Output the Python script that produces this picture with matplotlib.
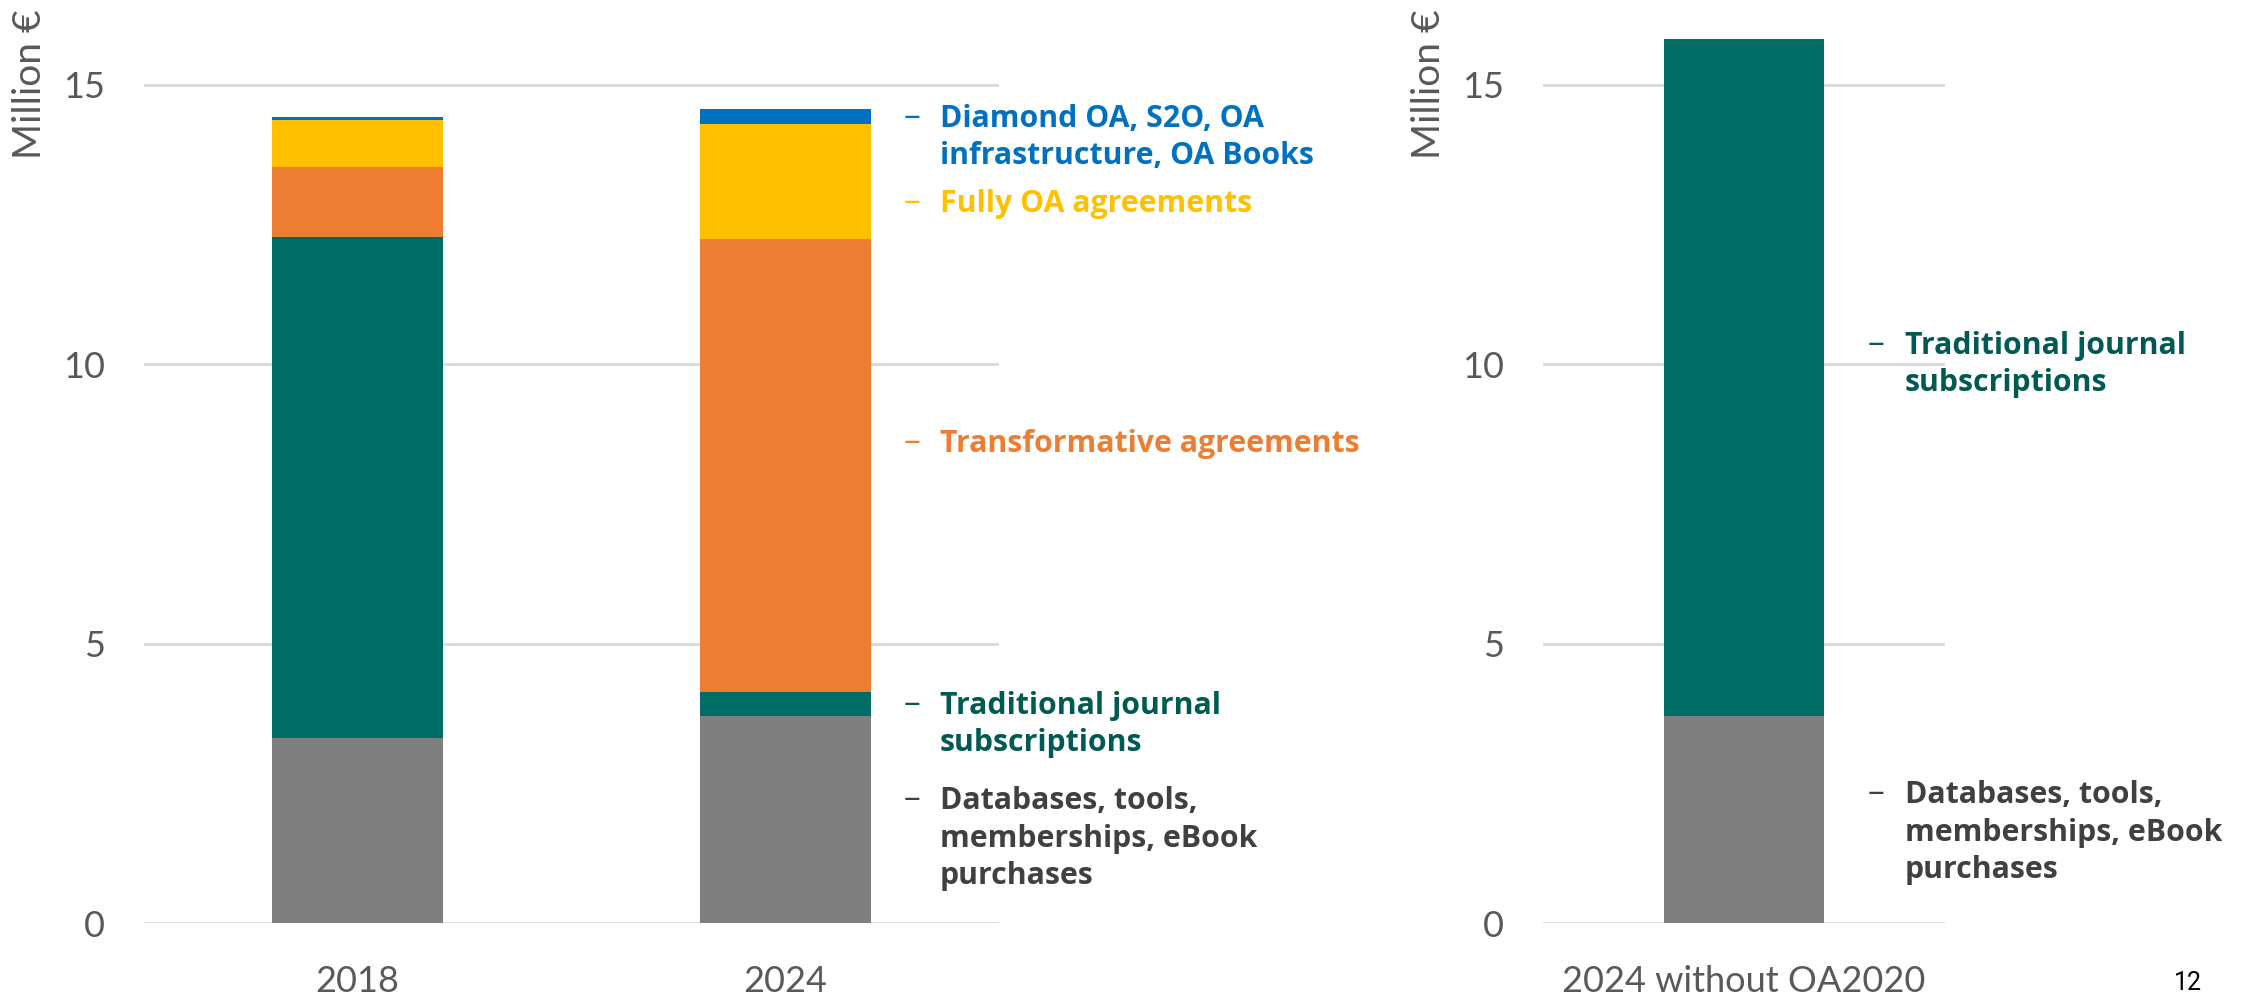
import matplotlib
matplotlib.use("Agg")
import matplotlib.pyplot as plt
import numpy as np

# ---------------- data ----------------
categories = ["2018", "2024"]
databases = [3.31, 3.70]
traditional = [8.97, 0.44]
transformative = [1.26, 8.10]
fully_oa = [0.84, 2.07]
diamond = [0.04, 0.26]

categories_right = ["2024 without OA2020"]
databases_right = [3.70]
traditional_right = [12.12]

yticks = [0, 5, 10, 15]
y_label = "Million €"
page_number = "12"

series_left = [
    ("Databases, tools,\nmemberships, eBook\npurchases", databases),
    ("Traditional journal\nsubscriptions", traditional),
    ("Transformative agreements", transformative),
    ("Fully OA agreements", fully_oa),
    ("Diamond OA, S2O, OA\ninfrastructure, OA Books", diamond),
]
series_right = [
    ("Databases, tools,\nmemberships, eBook\npurchases", databases_right),
    ("Traditional journal\nsubscriptions", traditional_right),
]

# ---------------- styles ----------------
bar_colors = ["#7F7F7F", "#006C66", "#ED7D31", "#FFC000", "#0070C0"]
label_colors = ["#404040", "#005A54", "#ED7D31", "#FFC000", "#0070C0"]
grid_color = "#D9D9D9"
tick_color = "#595959"
tick_font = "Lato"
label_font = "Open Sans"

W, H = 2251, 996
fig = plt.figure(figsize=(W / 100, H / 100), dpi=100)

def fx(px):
    return px / W

def fy(py):
    return 1 - py / H

y0_px, y15_px = 923, 85
px_per_unit = (y0_px - y15_px) / 15.0
ymax = 16
ax_h = ymax * px_per_unit

ax1 = fig.add_axes([fx(143.6), (H - y0_px) / H, (999 - 143.6) / W, ax_h / H])
ax2 = fig.add_axes([fx(1543), (H - y0_px) / H, (1945 - 1543) / W, ax_h / H])

def style_axes(ax, cats):
    ax.set_ylim(0, ymax)
    ax.set_xlim(-0.5, len(cats) - 0.5)
    ax.set_yticks(yticks)
    ax.set_xticks(range(len(cats)))
    ax.set_xticklabels(cats)
    ax.yaxis.grid(True, color=grid_color, linewidth=2)
    ax.set_axisbelow(True)
    for s in ax.spines.values():
        s.set_visible(False)
    ax.tick_params(axis="both", length=0, labelcolor=tick_color, labelsize=26)
    ax.tick_params(axis="y", pad=28)
    ax.tick_params(axis="x", pad=30)
    for lab in ax.get_xticklabels() + ax.get_yticklabels():
        lab.set_fontfamily(tick_font)

def stack(ax, cats, series):
    x = np.arange(len(cats))
    bottom = np.zeros(len(cats))
    for (name, vals), c in zip(series, bar_colors):
        ax.bar(x, vals, width=0.4, bottom=bottom, color=c, linewidth=0, zorder=2)
        bottom = bottom + np.array(vals)

stack(ax1, categories, series_left)
stack(ax2, categories_right, series_right)
style_axes(ax1, categories)
style_axes(ax2, categories_right)

# axis titles
fig.text(fx(30), fy(84), y_label, rotation=90, ha="center", va="center",
         fontsize=28, color=tick_color, family=tick_font)
fig.text(fx(1429), fy(84), y_label, rotation=90, ha="center", va="center",
         fontsize=28, color=tick_color, family=tick_font)

# annotation labels (baseline of first line in px, dash x, text x)
pitch = 37.5
label_pos_left = [(809, 904, 940), (714, 904, 940), (452, 904, 940), (211.7, 904, 940), (126.7, 904, 940)]
label_pos_right = [(803, 1868, 1905), (354, 1868, 1905)]

def draw_labels(series, positions, colors):
    for (name, _), (base, dx, tx), col in zip(series, positions, colors):
        lines = name.split("\n")
        fig.text(fx(dx), fy(base - 1), "–", ha="left", va="baseline",
                 fontsize=24, color=col, family=label_font, fontweight="normal")
        for i, line in enumerate(lines):
            fig.text(fx(tx), fy(base + i * pitch), line, ha="left", va="baseline",
                     fontsize=21.8, color=col, family=label_font, fontweight="bold")

draw_labels(series_left, label_pos_left, label_colors)
draw_labels(series_right, label_pos_right, label_colors)

fig.text(fx(2188), fy(990), page_number, ha="center", va="baseline",
         fontsize=18, color="#000000", family="Roboto")

fig.savefig("out.png", dpi=100)
